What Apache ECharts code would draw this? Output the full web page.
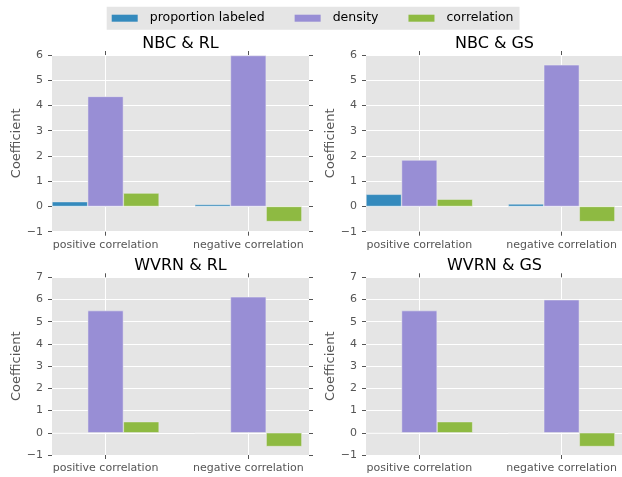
<!DOCTYPE html>
<html>
<head>
<meta charset="utf-8">
<script src="https://cdn.jsdelivr.net/npm/echarts@6/dist/echarts.min.js"></script>
<style>
html,body{margin:0;padding:0;background:#fff;}
#chart{width:622px;height:477px;}
</style>
</head>
<body>
<div id="chart"></div>
<script>
// ---- data ----
const categories = ['positive correlation', 'negative correlation'];
const seriesNames = ['proportion labeled', 'density', 'correlation'];
const panelTitles = ['NBC & RL', 'NBC & GS', 'WVRN & RL', 'WVRN & GS'];

const nbcRL_proportion = [0.19, 0.08];
const nbcRL_density = [4.36, 5.98];
const nbcRL_correlation = [0.53, -0.60];

const nbcGS_proportion = [0.48, 0.10];
const nbcGS_density = [1.84, 5.61];
const nbcGS_correlation = [0.29, -0.60];

const wvrnRL_proportion = [0.0, 0.0];
const wvrnRL_density = [5.50, 6.12];
const wvrnRL_correlation = [0.50, -0.62];

const wvrnGS_proportion = [0.0, 0.0];
const wvrnGS_density = [5.50, 5.99];
const wvrnGS_correlation = [0.50, -0.62];

const yMaxTop = 6;
const yMaxBottom = 7;
const yMin = -1;

// ---- build ----
const panelData = [
  [nbcRL_proportion, nbcRL_density, nbcRL_correlation],
  [nbcGS_proportion, nbcGS_density, nbcGS_correlation],
  [wvrnRL_proportion, wvrnRL_density, wvrnRL_correlation],
  [wvrnGS_proportion, wvrnGS_density, wvrnGS_correlation]
];
const yMaxes = [yMaxTop, yMaxTop, yMaxBottom, yMaxBottom];
const colors = ['#348ABD', '#988ED5', '#8EBA42'];
const boxes = [
  {left: 52, top: 55, width: 257, height: 176.7},
  {left: 366, top: 55, width: 257, height: 176.7},
  {left: 52, top: 277.3, width: 257, height: 177.7},
  {left: 366, top: 277.3, width: 257, height: 177.7}
];
const FONT = 'DejaVu Sans';
const tickColor = '#555555';
const catIdx = categories.map((c, i) => i);
const minus = v => String(v).replace('-', '\u2212');

const grid = [], xAxis = [], yAxis = [], series = [], title = [];
boxes.forEach((b, p) => {
  grid.push({left: b.left, top: b.top, width: b.width, height: b.height,
    show: true, backgroundColor: '#E5E5E5', borderWidth: 0, containLabel: false});
  const xBase = {type: 'value', gridIndex: p, min: -0.375, max: 1.425,
    axisLine: {show: false, onZero: false}};
  xAxis.push(Object.assign({}, xBase, {position: 'bottom',
    axisTick: {show: true, inside: false, length: 4, customValues: catIdx, lineStyle: {color: tickColor, width: 1}},
    axisLabel: {show: true, customValues: catIdx, margin: 8, fontSize: 11, fontFamily: FONT, color: tickColor,
      formatter: v => categories[Math.round(v)]},
    splitLine: {show: true, lineStyle: {color: '#ffffff', width: 1}}}));
  xAxis.push(Object.assign({}, xBase, {position: 'top',
    axisTick: {show: true, inside: false, length: 4, customValues: catIdx, lineStyle: {color: tickColor, width: 1}},
    axisLabel: {show: false}, splitLine: {show: false}}));
  const yBase = {type: 'value', gridIndex: p, min: yMin, max: yMaxes[p], interval: 1,
    axisLine: {show: false, onZero: false}};
  yAxis.push(Object.assign({}, yBase, {position: 'left',
    name: 'Coefficient', nameLocation: 'middle', nameGap: 29,
    nameTextStyle: {fontSize: 13, fontFamily: FONT, color: tickColor},
    axisTick: {show: true, inside: false, length: 4, lineStyle: {color: tickColor, width: 1}},
    axisLabel: {show: true, margin: 9, fontSize: 11, fontFamily: FONT, color: tickColor, formatter: minus},
    splitLine: {show: true, lineStyle: {color: '#ffffff', width: 1}}}));
  yAxis.push(Object.assign({}, yBase, {position: 'right',
    axisTick: {show: true, inside: false, length: 4, lineStyle: {color: tickColor, width: 1}},
    axisLabel: {show: false}, splitLine: {show: false}}));
  title.push({text: panelTitles[p], left: b.left + b.width / 2, top: b.top - 19, textAlign: 'center', padding: 0,
    textStyle: {fontSize: 16, fontWeight: 'normal', color: '#000000', fontFamily: FONT}});
  panelData[p].forEach((vals, s) => {
    series.push({type: 'bar', name: seriesNames[s], xAxisIndex: 2 * p, yAxisIndex: 2 * p,
      data: vals.map((v, i) => [catIdx[i], v]),
      barWidth: '25%', barGap: '0%',
      itemStyle: {color: colors[s], borderColor: '#EEEEEE', borderWidth: 0.5},
      emphasis: {disabled: true}});
  });
});

const chart = echarts.init(document.getElementById('chart'), null, {renderer: 'canvas'});
chart.setOption({
  animation: false,
  backgroundColor: '#ffffff',
  color: colors,
  title: title,
  legend: {data: seriesNames, icon: 'rect', itemWidth: 26, itemHeight: 7, itemGap: 30,
    left: 106.7, top: 6.7, backgroundColor: '#E5E5E5', padding: [5, 6, 5, 5],
    itemStyle: {borderWidth: 0},
    textStyle: {fontSize: 12.5, color: '#000000', fontFamily: FONT, padding: [0, 0, 0, 7]}},
  grid: grid,
  xAxis: xAxis,
  yAxis: yAxis,
  series: series
});
</script>
</body>
</html>
